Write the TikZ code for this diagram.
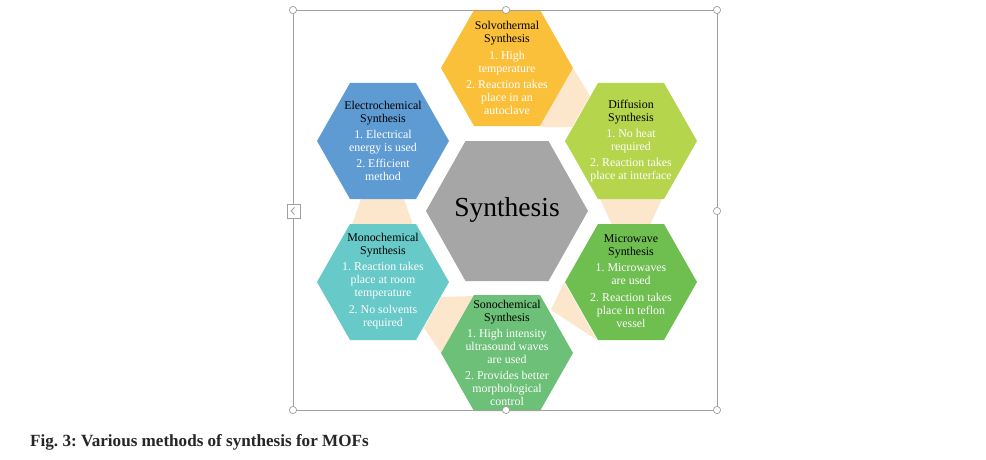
\documentclass[tikz,border=0pt]{standalone}
\usepackage{fontspec}
\setmainfont{Liberation Serif}
\frenchspacing
\definecolor{solvo}{HTML}{FAC03A}
\definecolor{electro}{HTML}{5E9BD3}
\definecolor{diffu}{HTML}{B5D54C}
\definecolor{micro}{HTML}{6FBE50}
\definecolor{mono}{HTML}{67C9C8}
\definecolor{sono}{HTML}{6CC077}
\definecolor{centre}{HTML}{A5A6A5}
\definecolor{peach}{HTML}{FDE7CC}
\definecolor{framegray}{HTML}{A0A0A0}
\newcommand\myhex[3]{\fill[#3,shift={(#1,#2)}] (-66,0)--(-33,-58)--(33,-58)--(66,0)--(33,58)--(-33,58)--cycle;}
\newcommand\tb[1]{\textcolor{black}{#1}}
\tikzset{
  txt/.style={align=center,text=white,font=\fontsize{11.9}{12.9}\selectfont,inner sep=0pt},
  handle/.style={draw=framegray,fill=white,line width=0.7pt},
  conn/.style={fill=peach}
}
\begin{document}
\begin{tikzpicture}[x=1pt,y=-1pt]
\useasboundingbox[fill=white] (0,0) rectangle (986,460);
% peach connectors
\fill[conn] (573,68)--(590,96)--(572,127)--(540,127)--cycle;
\fill[conn] (600,199)--(662,199)--(650,225)--(612,225)--cycle;
\fill[conn] (551,310)--(564,282)--(597,340)--cycle;
\fill[conn] (441,297)--(474,296)--(441,353)--(424,328)--cycle;
\fill[conn] (361,199)--(404,199)--(413,225)--(352,225)--cycle;
% hexagons
\myhex{507}{68}{solvo}
\myhex{383}{141}{electro}
\myhex{631}{141}{diffu}
\myhex{383}{282}{mono}
\myhex{631}{282}{micro}
\myhex{507}{353}{sono}
\fill[centre] (426,211)--(465.5,141)--(548.5,141)--(588,211)--(548.5,281)--(465.5,281)--cycle;
% frame
\draw[framegray,line width=0.8pt] (293,10) rectangle (717,410);
\coordinate (c1) at (293,10);
\coordinate (c2) at (506,10);
\coordinate (c3) at (717,10);
\coordinate (c4) at (717,211);
\coordinate (c5) at (717,410);
\coordinate (c6) at (506,410);
\coordinate (c7) at (293,410);
\foreach \c in {c1,c2,c3,c4,c5,c6,c7}{\draw[handle] (\c) circle (3.6);}
\draw[framegray,fill=white,line width=0.6pt] (287,204) rectangle (300,218);
\draw[framegray,line width=0.8pt] (294.5,207.5)--(291,211)--(294.5,214.5);
% texts
\node[txt] (tsolvo) at (507,68) {\tb{Solvothermal}\\\tb{Synthesis}\\[3.5pt]1. High\\temperature\\[3.5pt]2. Reaction takes\\place in an\\autoclave};
\node[txt] (telectro) at (383,141) {\tb{Electrochemical}\\\tb{Synthesis}\\[3.5pt]1. Electrical\\energy is used\\[3.5pt]2. Efficient\\method};
\node[txt] (tdiffu) at (631,141) {\tb{Diffusion}\\\tb{Synthesis}\\[3.5pt]1. No heat\\required\\[3.5pt]2. Reaction takes\\place at interface};
\node[txt] (tmono) at (383,281) {\tb{Monochemical}\\\tb{Synthesis}\\[3.5pt]1. Reaction takes\\place at room\\temperature\\[3.5pt]2. No solvents\\required};
\node[txt] (tmicro) at (631,281) {\tb{Microwave}\\\tb{Synthesis}\\[3.5pt]1. Microwaves\\are used\\[3.5pt]2. Reaction takes\\place in teflon\\vessel};
\node[txt] (tsono) at (507,353) {\tb{Sonochemical}\\\tb{Synthesis}\\[3.5pt]1. High intensity\\ultrasound waves\\are used\\[3.5pt]2. Provides better\\morphological\\control};
\node[font=\fontsize{27.5}{32}\selectfont,inner sep=0pt] (tcentre) at (507,210) {Synthesis};
\node[font=\bfseries\fontsize{17.1}{20}\selectfont,text=black!85,anchor=base west,inner sep=0pt] (caption) at (30,446) {Fig. 3: Various methods of synthesis for MOFs};
\end{tikzpicture}
\end{document}
